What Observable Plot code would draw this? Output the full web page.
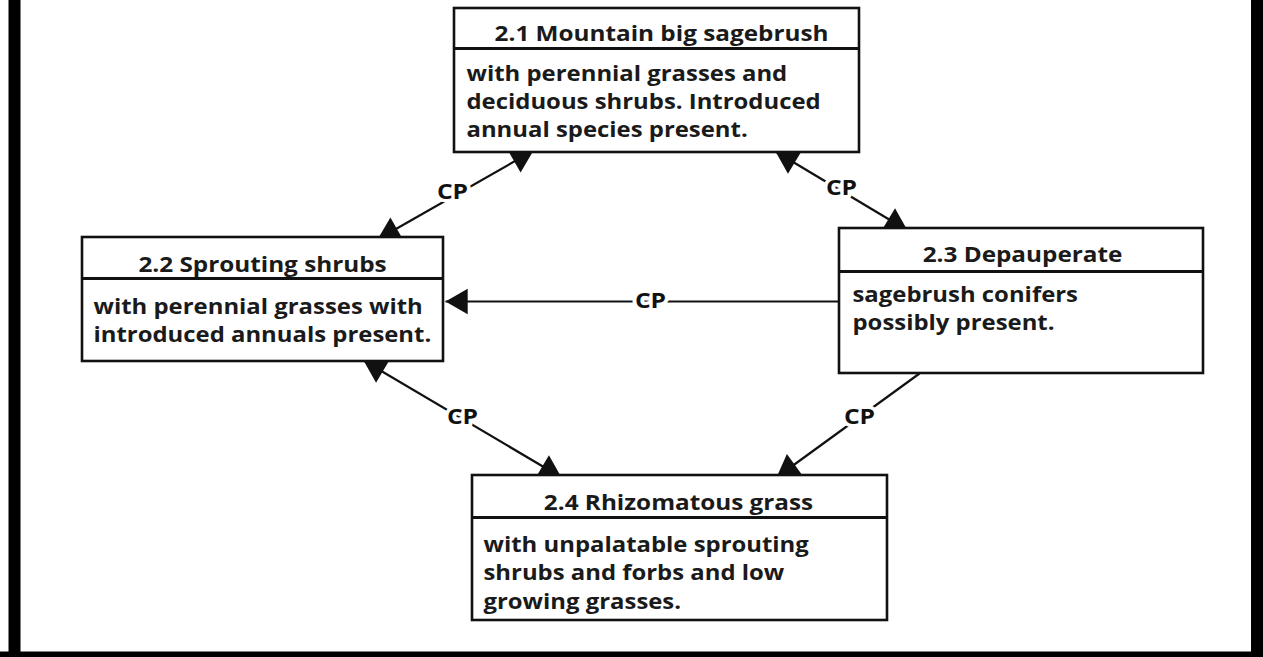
<!DOCTYPE html>
<html><head><meta charset="utf-8">
<script src="https://cdn.jsdelivr.net/npm/d3@7"></script>
<script src="https://cdn.jsdelivr.net/npm/@observablehq/plot@0.6"></script>
<style>html,body{margin:0;padding:0;background:#fff;overflow:hidden}</style>
</head><body><div id="chart"></div>
<script>
// ---- content ----
const stateIds = ["2.1", "2.2", "2.3", "2.4"];
const stateTitles = ["2.1 Mountain big sagebrush", "2.2 Sprouting shrubs", "2.3 Depauperate", "2.4 Rhizomatous grass"];
const stateDescriptions = [
  ["with perennial grasses and", "deciduous shrubs. Introduced", "annual species present."],
  ["with perennial grasses with", "introduced annuals present."],
  ["sagebrush conifers", "possibly present."],
  ["with unpalatable sprouting", "shrubs and forbs and low", "growing grasses."]
];
const transitionFrom = ["2.2", "2.1", "2.3", "2.2", "2.3"];
const transitionTo = ["2.1", "2.3", "2.2", "2.4", "2.4"];
const transitionTwoWay = [true, true, false, true, false];
const transitionLabels = ["CP", "CP", "CP", "CP", "CP"];

// ---- layout (pixels) ----
const boxLeft = [454, 82, 839, 472];
const boxRight = [859, 443, 1203, 887];
const boxTop = [8, 237, 228, 475];
const boxBottom = [152, 361, 373, 620];
const boxDivider = [48, 278, 271, 517];
const titleCenterX = [661, 262, 1022, 678];
const titleBaseline = [40.5, 271.5, 261.5, 509.5];
const bodyLeft = [466, 93, 852, 483];
const bodyFirstBaseline = [80, 313.5, 301.5, 551.5];
const bodyLineStep = 28.4;
const edgeX1 = [377, 775, 839, 363, 919];
const edgeY1 = [239, 151, 301, 360, 373];
const edgeX2 = [533, 907, 445, 561, 776];
const edgeY2 = [150, 230, 301, 477, 477];
const labelX = [452, 841, 650, 462, 859];
const labelY = [191, 187, 300, 416, 416];

const FONT = "'Open Sans', 'Noto Sans', sans-serif";
const FS = 20.6;       // box text size
const LABEL_FS = 22;   // "CP" size
const headR = 9.5;
const mid = 0.32;      // Plot's middle line-anchor offset (em)

const boxes = stateIds.map((id, i) => ({
  id, title: stateTitles[i],
  x1: boxLeft[i], x2: boxRight[i], y1: boxTop[i], y2: boxBottom[i], div: boxDivider[i],
  tx: titleCenterX[i], ty: titleBaseline[i] - mid * FS
}));
const bodyRows = stateDescriptions.flatMap((lines, i) =>
  lines.map((t, j) => ({text: t, x: bodyLeft[i], y: bodyFirstBaseline[i] + j * bodyLineStep - mid * FS})));
const edges = transitionFrom.map((f, i) => ({
  from: f, to: transitionTo[i], label: transitionLabels[i], both: transitionTwoWay[i],
  x1: edgeX1[i], y1: edgeY1[i], x2: edgeX2[i], y2: edgeY2[i], lx: labelX[i], ly: labelY[i]
}));
// arrowheads: tip at the endpoint, pointing along the edge
const heads = [];
edges.forEach(e => {
  const addHead = (tx, ty, fx, fy) => {
    const dx = tx - fx, dy = ty - fy, L = Math.hypot(dx, dy);
    const ux = dx / L, uy = dy / L;
    const back = 1.555 * headR;
    heads.push({x: tx - ux * back, y: ty - uy * back, rot: Math.atan2(dy, dx) * 180 / Math.PI + 90});
  };
  addHead(e.x2, e.y2, e.x1, e.y1);
  if (e.both) addHead(e.x1, e.y1, e.x2, e.y2);
});

const chart = Plot.plot({
  width: 1263, height: 657, margin: 0,
  x: {domain: [0, 1263], range: [0, 1263]},
  y: {domain: [0, 657], range: [0, 657]},
  axis: null,
  style: {background: "white", fontFamily: FONT},
  marks: [
    Plot.ruleX([14], {stroke: "black", strokeWidth: 12}),
    Plot.ruleX([1257], {stroke: "black", strokeWidth: 13}),
    Plot.ruleY([655], {stroke: "black", strokeWidth: 8}),
    Plot.link(edges, {x1: "x1", y1: "y1", x2: "x2", y2: "y2", stroke: "#111", strokeWidth: 2.2}),
    Plot.dot(heads, {x: "x", y: "y", rotate: "rot", symbol: "triangle", r: headR, fill: "#111", stroke: "none"}),
    Plot.rect(boxes, {x1: "x1", x2: "x2", y1: "y1", y2: "y2", fill: "white", stroke: "#111", strokeWidth: 2.6}),
    Plot.link(boxes, {x1: "x1", x2: "x2", y1: "div", y2: "div", stroke: "#111", strokeWidth: 3}),
    Plot.text(boxes, {x: "tx", y: "ty", text: "title", fontSize: FS, fontWeight: "bold", fill: "#1a1a1a", textAnchor: "middle", lineAnchor: "middle"}),
    Plot.text(bodyRows, {x: "x", y: "y", text: "text", fontSize: FS, fontWeight: "bold", fill: "#1a1a1a", textAnchor: "start", lineAnchor: "middle"}),
    Plot.text(edges, {x: "lx", y: "ly", text: "label", fontSize: LABEL_FS, fontWeight: "bold", fill: "#111", stroke: "white", strokeWidth: 7, paintOrder: "stroke", textAnchor: "middle", lineAnchor: "middle"})
  ]
});
// the reference lettering is horizontally stretched: widen each text about its anchor
const stretch = [1.18, 1.16, 1.12];
chart.querySelectorAll('g[aria-label="text"]').forEach((g, gi) => {
  const s = stretch[gi] || 1;
  g.querySelectorAll("text").forEach(el => {
    const t = el.getAttribute("transform") || "";
    const ax = el.getAttribute("x"), ay = el.getAttribute("y");
    if (ax != null || ay != null) {
      const x = +ax || 0, y = +ay || 0;
      el.setAttribute("transform", `${t} translate(${x},${y}) scale(${s},1) translate(${-x},${-y})`);
    } else {
      el.setAttribute("transform", `${t} scale(${s},1)`);
    }
  });
});
document.getElementById("chart").appendChild(chart);
</script>
</body></html>
